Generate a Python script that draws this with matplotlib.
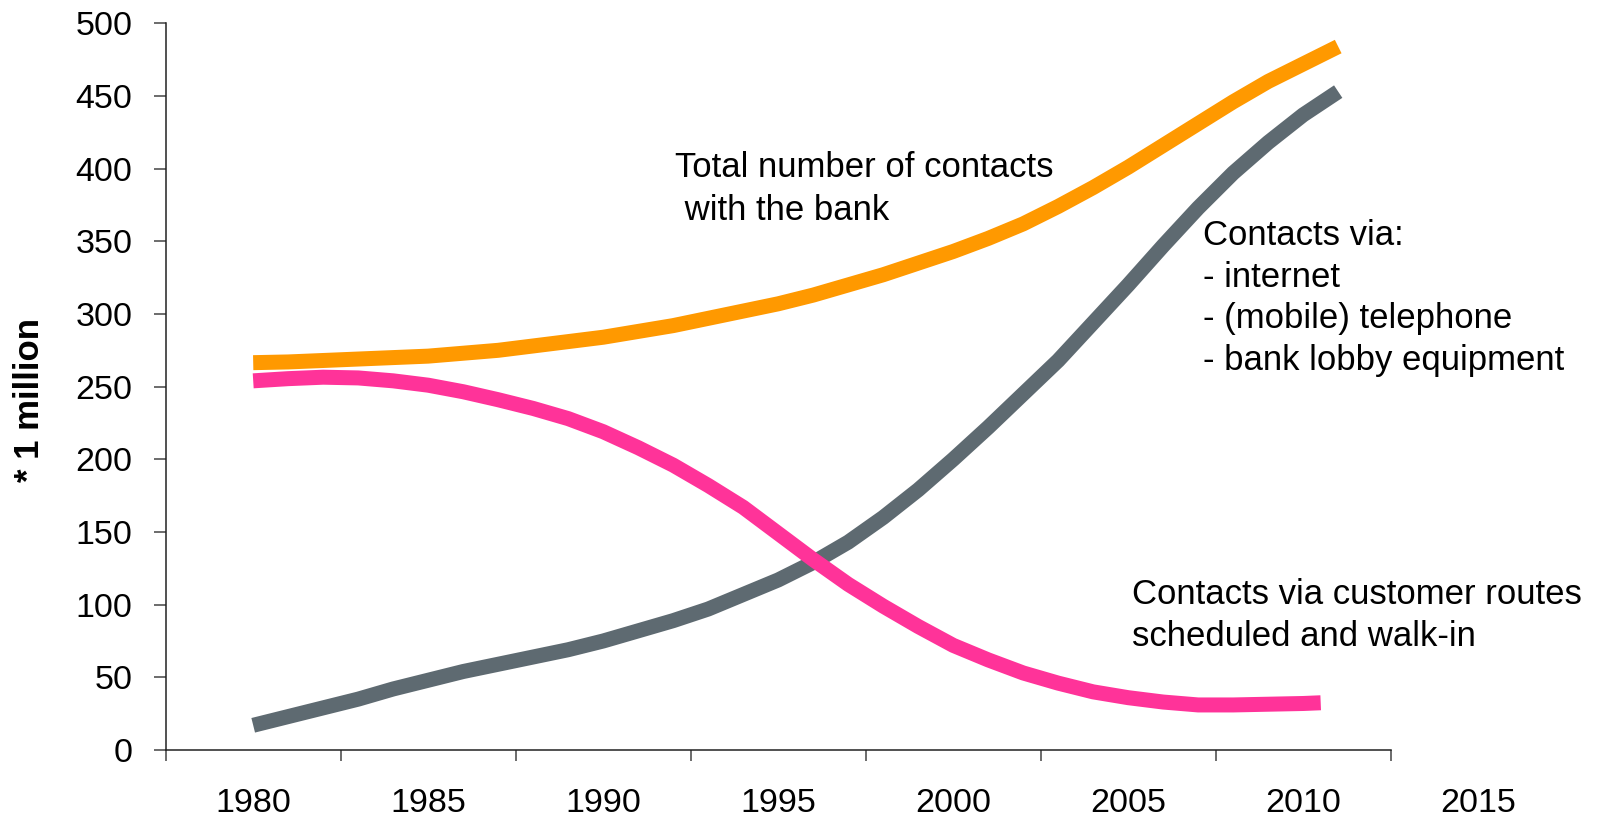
import matplotlib.pyplot as plt
import numpy as np

plt.rcParams['font.family'] = ['Liberation Sans', 'DejaVu Sans']

# values (* 1 million contacts)
years = list(range(1980, 2012))
total_contacts = [266.5, 267, 268, 269, 270, 271, 273, 275, 278, 281,
                  284, 288, 292, 297, 302, 307, 313, 320, 327, 335,
                  343, 352, 362, 374, 387, 401, 416, 431, 446, 460,
                  472, 484]
digital_contacts = [17, 23, 29, 35, 42, 48, 54, 59, 64, 69,
                    75, 82, 89, 97, 107, 117, 129, 143, 160, 179,
                    200, 222, 245, 268, 294, 320, 347, 373, 397, 418,
                    437, 453]
branch_years = list(range(1980, 2011)) + [2010.5]
branch_contacts = [254, 255.5, 256.5, 256, 254, 251, 246.5, 241, 235, 228,
                   219, 208, 196, 182, 167, 149, 131, 114, 99, 85,
                   72, 62, 53, 46, 40, 36, 33, 31, 31, 31.5,
                   32, 32.5]

year_labels = [1980, 1985, 1990, 1995, 2000, 2005, 2010, 2015]
y_ticks = list(range(0, 501, 50))

ORANGE = '#FF9900'
PINK = '#FF3399'
GREY = '#5E6A71'


def main():
    fig = plt.figure(figsize=(15.97, 8.21), dpi=100)
    W, H = 1597, 821
    ax = fig.add_axes([165.7 / W, 71 / H, 1 - 165.7 / W, (750 - 23.3) / H])

    lw = 10.8
    ax.plot(years, total_contacts, color=ORANGE, lw=lw, solid_capstyle='butt',
            solid_joinstyle='round')
    ax.plot(years, digital_contacts, color=GREY, lw=lw, solid_capstyle='butt',
            solid_joinstyle='round')
    ax.plot(branch_years, branch_contacts, color=PINK, lw=lw,
            solid_capstyle='butt', solid_joinstyle='round')

    ax.set_ylim(0, 500)
    ax.set_xlim(1977.5, 1977.5 + (W - 165.7) / 35)

    for s in ['top', 'right']:
        ax.spines[s].set_visible(False)
    ax.spines['bottom'].set_bounds(1977.5, 2012.5)
    for s in ['left', 'bottom']:
        ax.spines[s].set_linewidth(1.1)
        ax.spines[s].set_color('#222222')

    ax.set_yticks(y_ticks)
    ax.tick_params(axis='y', length=9, width=1.1, color='#444444',
                   labelsize=24.5, pad=15)

    # tick marks between years, labels centred under each 5-year span
    ax.set_xticks(np.arange(1977.5, 2013, 5))
    ax.set_xticklabels([])
    ax.set_xticks(year_labels, minor=True)
    ax.set_xticklabels([str(y) for y in year_labels], minor=True)
    ax.tick_params(axis='x', which='major', length=8, width=1.1,
                   color='#444444')
    ax.tick_params(axis='x', which='minor', length=0, labelsize=24.5, pad=27)

    fig.text(30 / W, 1 - 400 / H, '* 1 million', rotation=90, ha='center',
             va='center', fontsize=25, fontweight='bold')

    def px(x, y):
        return 1977.5 + (x - 165.7) / 35, (750 - y) / 1.4534

    # va='baseline' pins the last line of each block
    ax.text(*px(675, 220), 'Total number of contacts\n with the bank',
            fontsize=25, va='baseline', ha='left', linespacing=1.4)
    ax.text(*px(1203, 370), 'Contacts via:\n- internet\n- (mobile) telephone\n'
            '- bank lobby equipment', fontsize=25, va='baseline',
            ha='left', linespacing=1.33)
    ax.text(*px(1131.7, 646), 'Contacts via customer routes\n'
            'scheduled and walk-in', fontsize=25, va='baseline',
            ha='left', linespacing=1.33)

    fig.savefig('out.png', dpi=100)


if __name__ == "__main__":
    main()
